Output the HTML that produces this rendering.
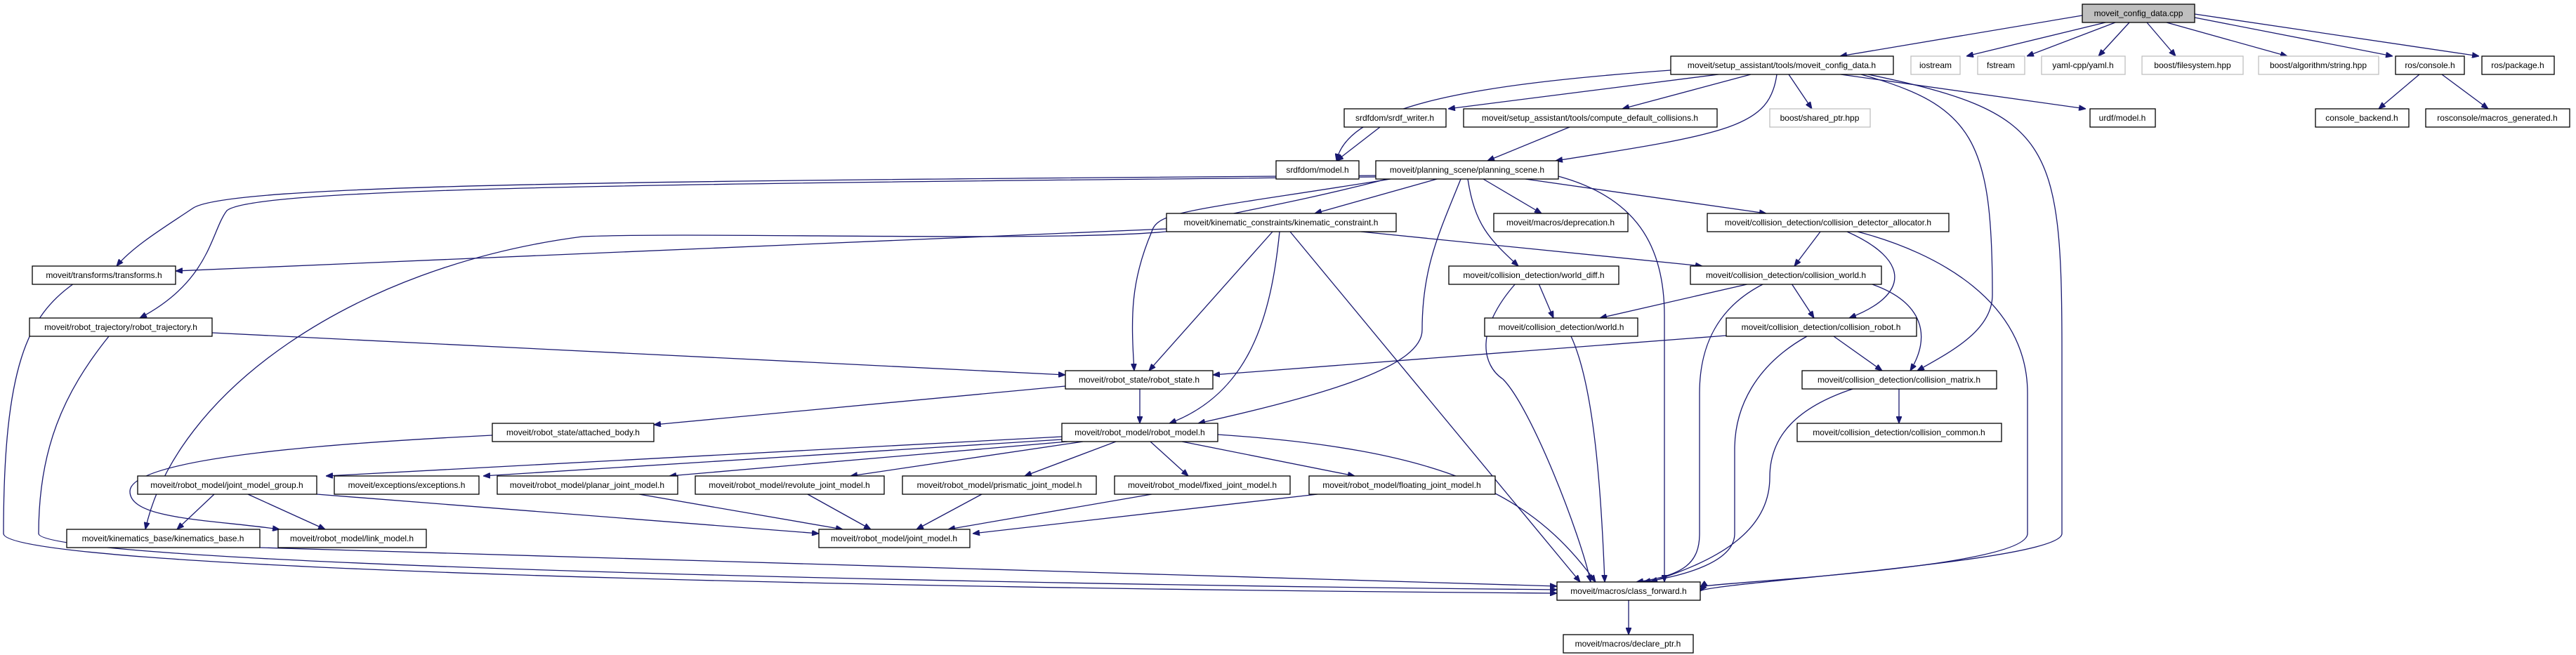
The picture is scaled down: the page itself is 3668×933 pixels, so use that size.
<!DOCTYPE html>
<html><head><meta charset="utf-8"><style>
html,body{margin:0;padding:0;background:#fff;}
svg{display:block;}
text{font-family:"Liberation Sans",Arial,sans-serif;font-size:12px;text-anchor:middle;fill:#000;}
.n{fill:#fff;stroke:#000;stroke-width:1.3;}
.g{fill:#fff;stroke:#bfbfbf;stroke-width:1.3;}
.e{fill:none;stroke:#191970;stroke-width:1.3;}
</style></head><body>
<svg width="3668" height="933" viewBox="0 0 3668 933" xmlns="http://www.w3.org/2000/svg">
<defs><marker id="a" viewBox="0 0 10 8" refX="10" refY="4" markerWidth="10" markerHeight="8" markerUnits="userSpaceOnUse" orient="auto"><path d="M0,0 L10,4 L0,8 z" fill="#191970" stroke="#191970"/></marker></defs>
<g class="e" marker-end="url(#a)">
<!-- root -->
<path d="M2965,22 L2620,80"/>
<path d="M2998,32 L2800,80"/>
<path d="M3012,32 L2886,80"/>
<path d="M3032,32 L2988,80"/>
<path d="M3057,32 L3098,80"/>
<path d="M3085,32 L3257,80"/>
<path d="M3125,25 L3407,80"/>
<path d="M3125,20 L3530,80"/>
<!-- ros console -->
<path d="M3445,106 L3387,155"/>
<path d="M3477,106 L3543,155"/>
<!-- moveit_config_data.h -->
<path d="M2379,100 C2100,120 1920,150 1903,229"/>
<path d="M2447,106 L2062,155"/>
<path d="M2493,106 L2310,155"/>
<path d="M2530,106 C2520,180 2464,190 2215,229"/>
<path d="M2547,106 L2580,155"/>
<path d="M2621,106 L2970,155"/>
<path d="M2650,106 C2810,150 2837,200 2837,420 C2837,470 2780,500 2730,528"/>
<path d="M2660,106 C2920,160 2936,200 2936,500 L2936,760 C2936,800 2430,830 2421,842"/>
<path d="M1965,181 L1903,229"/>
<path d="M2235,181 L2118,229"/>
<!-- planning_scene -->
<path d="M1960,250 C900,258 320,262 274,297 C240,320 190,350 166,379"/>
<path d="M1960,252 C900,262 360,268 323,300 C300,330 300,400 199,453"/>
<path d="M1975,255 C1800,300 1700,310 1660,330 C1500,345 1000,330 829,337 C500,380 250,560 207,754"/>
<path d="M1980,255 C1700,300 1648,300 1640,330 C1610,400 1610,450 1615,528"/>
<path d="M2046,255 L1872,304"/>
<path d="M2080,255 C2050,330 2025,380 2025,470 C2025,520 1900,560 1706,603"/>
<path d="M2112,255 L2195,304"/>
<path d="M2090,255 C2100,320 2120,340 2162,379"/>
<path d="M2172,255 L2515,304"/>
<path d="M2215,250 C2330,280 2370,350 2370,450 L2370,829"/>
<!-- kinematic_constraint -->
<path d="M1661,326 L250,386"/>
<path d="M1812,330 L1636,528"/>
<path d="M1822,330 C1810,450 1780,560 1665,603"/>
<path d="M1837,330 L2250,829"/>
<path d="M1938,330 L2424,379"/>
<!-- world_diff -->
<path d="M2191,404 L2212,453"/>
<path d="M2158,404 C2100,470 2110,520 2140,540 C2180,580 2250,760 2265,829"/>
<!-- allocator -->
<path d="M2592,330 L2555,379"/>
<path d="M2630,330 C2720,370 2720,420 2633,453"/>
<path d="M2645,330 C2760,360 2887,430 2887,560 L2887,760 C2887,810 2430,830 2421,836"/>
<!-- collision_world -->
<path d="M2492,404 L2278,453"/>
<path d="M2551,404 L2583,453"/>
<path d="M2663,404 C2740,430 2750,480 2720,528"/>
<path d="M2512,404 C2440,440 2420,500 2420,560 L2420,760 C2420,800 2400,820 2330,829"/>
<!-- collision_robot -->
<path d="M2458,478 L1727,534"/>
<path d="M2611,479 L2680,528"/>
<path d="M2573,479 C2500,520 2470,580 2470,640 L2470,760 C2470,800 2400,820 2340,829"/>
<path d="M2704,554 L2704,603"/>
<path d="M2638,554 C2560,580 2520,620 2520,680 C2520,760 2440,800 2350,829"/>
<path d="M2237,479 C2270,550 2280,700 2285,829"/>
<!-- robot_trajectory / transforms -->
<path d="M302,474 L1517,534"/>
<path d="M155,479 C90,560 55,640 55,760 C55,800 1200,830 2217,840"/>
<path d="M105,404 C40,450 5,520 5,760 C5,810 1200,838 2217,845"/>
<!-- robot_state -->
<path d="M1517,550 L931,605"/>
<path d="M1623,554 L1623,603"/>
<path d="M701,620 C500,630 185,650 185,700 C185,740 300,740 398,754"/>
<!-- robot_model -->
<path d="M1512,622 L464,678"/>
<path d="M1512,626 L688,678"/>
<path d="M1520,629 L953,678"/>
<path d="M1542,629 L1211,678"/>
<path d="M1589,629 L1459,678"/>
<path d="M1638,629 L1692,678"/>
<path d="M1683,629 L1929,678"/>
<path d="M1734,619 C2050,640 2180,700 2272,829"/>
<!-- joint_model_group etc -->
<path d="M305,704 L252,754"/>
<path d="M353,704 L463,754"/>
<path d="M451,704 L1166,760"/>
<path d="M910,704 L1200,754"/>
<path d="M1150,704 L1240,754"/>
<path d="M1398,704 L1305,754"/>
<path d="M1640,704 L1350,754"/>
<path d="M1876,704 L1385,760"/>
<path d="M370,780 L2217,835"/>
<path d="M2319,855 L2319,904"/>
</g>
<!-- nodes -->
<rect x="2965" y="6" width="160" height="26" fill="#bfbfbf" stroke="#000" stroke-width="1.3"/><text x="3045" y="23">moveit_config_data.cpp</text>
<rect class="n" x="2379" y="80" width="317" height="26"/><text x="2537" y="97">moveit/setup_assistant/tools/moveit_config_data.h</text>
<rect class="g" x="2721" y="80" width="70" height="26"/><text x="2756" y="97">iostream</text>
<rect class="g" x="2816" y="80" width="67" height="26"/><text x="2849" y="97">fstream</text>
<rect class="g" x="2907" y="80" width="119" height="26"/><text x="2966" y="97">yaml-cpp/yaml.h</text>
<rect class="g" x="3050" y="80" width="144" height="26"/><text x="3122" y="97">boost/filesystem.hpp</text>
<rect class="g" x="3216" y="80" width="171" height="26"/><text x="3301" y="97">boost/algorithm/string.hpp</text>
<rect class="n" x="3411" y="80" width="98" height="26"/><text x="3460" y="97">ros/console.h</text>
<rect class="n" x="3534" y="80" width="103" height="26"/><text x="3585" y="97">ros/package.h</text>
<rect class="n" x="3297" y="155" width="133" height="26"/><text x="3363" y="172">console_backend.h</text>
<rect class="n" x="3454" y="155" width="205" height="26"/><text x="3556" y="172">rosconsole/macros_generated.h</text>
<rect class="n" x="1914" y="155" width="145" height="26"/><text x="1986" y="172">srdfdom/srdf_writer.h</text>
<rect class="n" x="2084" y="155" width="361" height="26"/><text x="2264" y="172">moveit/setup_assistant/tools/compute_default_collisions.h</text>
<rect class="g" x="2520" y="155" width="143" height="26"/><text x="2591" y="172">boost/shared_ptr.hpp</text>
<rect class="n" x="2976" y="155" width="93" height="26"/><text x="3022" y="172">urdf/model.h</text>
<rect class="n" x="1817" y="229" width="118" height="26"/><text x="1876" y="246">srdfdom/model.h</text>
<rect class="n" x="1959" y="229" width="260" height="26"/><text x="2089" y="246">moveit/planning_scene/planning_scene.h</text>
<rect class="n" x="1661" y="304" width="327" height="26"/><text x="1824" y="321">moveit/kinematic_constraints/kinematic_constraint.h</text>
<rect class="n" x="2127" y="304" width="191" height="26"/><text x="2222" y="321">moveit/macros/deprecation.h</text>
<rect class="n" x="2431" y="304" width="344" height="26"/><text x="2603" y="321">moveit/collision_detection/collision_detector_allocator.h</text>
<rect class="n" x="46" y="379" width="204" height="26"/><text x="148" y="396">moveit/transforms/transforms.h</text>
<rect class="n" x="2063" y="379" width="242" height="26"/><text x="2184" y="396">moveit/collision_detection/world_diff.h</text>
<rect class="n" x="2407" y="379" width="272" height="26"/><text x="2543" y="396">moveit/collision_detection/collision_world.h</text>
<rect class="n" x="42" y="453" width="260" height="26"/><text x="172" y="470">moveit/robot_trajectory/robot_trajectory.h</text>
<rect class="n" x="2114" y="453" width="218" height="26"/><text x="2223" y="470">moveit/collision_detection/world.h</text>
<rect class="n" x="2458" y="453" width="271" height="26"/><text x="2593" y="470">moveit/collision_detection/collision_robot.h</text>
<rect class="n" x="1517" y="528" width="210" height="26"/><text x="1622" y="545">moveit/robot_state/robot_state.h</text>
<rect class="n" x="2566" y="528" width="277" height="26"/><text x="2704" y="545">moveit/collision_detection/collision_matrix.h</text>
<rect class="n" x="701" y="603" width="230" height="26"/><text x="816" y="620">moveit/robot_state/attached_body.h</text>
<rect class="n" x="1512" y="603" width="222" height="26"/><text x="1623" y="620">moveit/robot_model/robot_model.h</text>
<rect class="n" x="2559" y="603" width="291" height="26"/><text x="2704" y="620">moveit/collision_detection/collision_common.h</text>
<rect class="n" x="196" y="678" width="255" height="26"/><text x="323" y="695">moveit/robot_model/joint_model_group.h</text>
<rect class="n" x="476" y="678" width="206" height="26"/><text x="579" y="695">moveit/exceptions/exceptions.h</text>
<rect class="n" x="708" y="678" width="257" height="26"/><text x="836" y="695">moveit/robot_model/planar_joint_model.h</text>
<rect class="n" x="990" y="678" width="269" height="26"/><text x="1124" y="695">moveit/robot_model/revolute_joint_model.h</text>
<rect class="n" x="1285" y="678" width="276" height="26"/><text x="1423" y="695">moveit/robot_model/prismatic_joint_model.h</text>
<rect class="n" x="1587" y="678" width="250" height="26"/><text x="1712" y="695">moveit/robot_model/fixed_joint_model.h</text>
<rect class="n" x="1864" y="678" width="265" height="26"/><text x="1996" y="695">moveit/robot_model/floating_joint_model.h</text>
<rect class="n" x="95" y="754" width="275" height="26"/><text x="232" y="771">moveit/kinematics_base/kinematics_base.h</text>
<rect class="n" x="396" y="754" width="211" height="26"/><text x="501" y="771">moveit/robot_model/link_model.h</text>
<rect class="n" x="1166" y="754" width="215" height="26"/><text x="1273" y="771">moveit/robot_model/joint_model.h</text>
<rect class="n" x="2217" y="829" width="204" height="26"/><text x="2319" y="846">moveit/macros/class_forward.h</text>
<rect class="n" x="2226" y="904" width="185" height="26"/><text x="2318" y="921">moveit/macros/declare_ptr.h</text>
</svg>
</body></html>
